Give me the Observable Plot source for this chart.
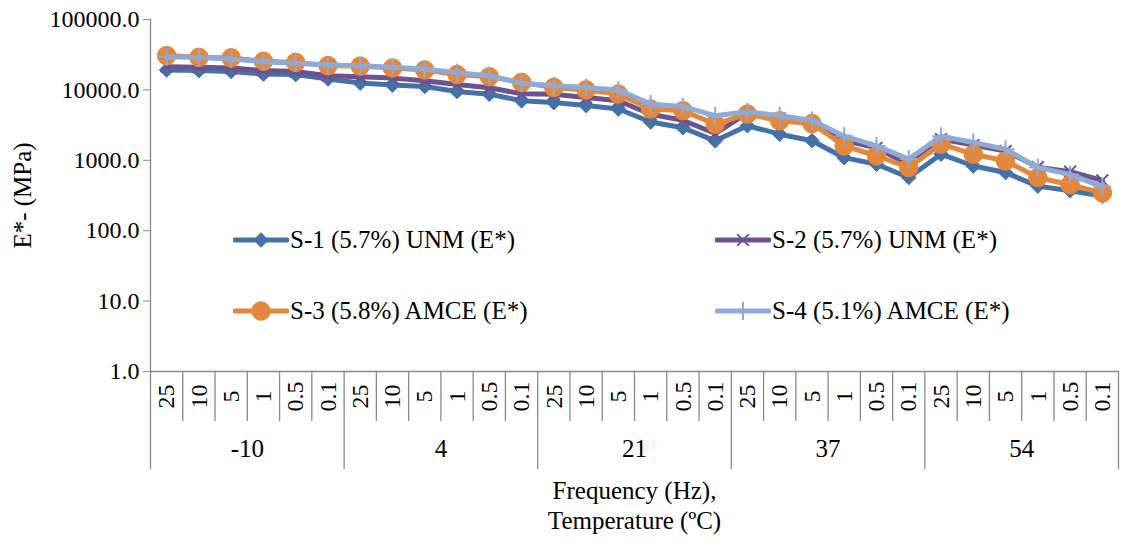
<!DOCTYPE html>
<html>
<head>
<meta charset="utf-8">
<script src="https://cdn.jsdelivr.net/npm/d3@7"></script>
<script src="https://cdn.jsdelivr.net/npm/@observablehq/plot@0.6"></script>
<style>
  body { margin: 0; background: #fff; }
  #wrap { position: relative; width: 1125px; height: 547px; font-family: "Liberation Serif", "Times New Roman", Times, Tinos, "DejaVu Serif", serif; }
  .leg { position: absolute; display: flex; align-items: center; font-size: 25px; color: #000; white-space: nowrap; }
  .leg svg { margin-right: 1px; }
</style>
</head>
<body>
<div id="wrap"></div>
<script>
// ---- data ----
const temps = ["-10", "4", "21", "37", "54"];
const freqs = ["25", "10", "5", "1", "0.5", "0.1"];
const seriesNames = ["S-1 (5.7%) UNM (E*)", "S-2 (5.7%) UNM (E*)", "S-3 (5.8%) AMCE (E*)", "S-4 (5.1%) AMCE (E*)"];
const s1 = [19200, 18800, 18300, 16800, 16500, 14300,
            12500, 11700, 11200, 9500, 8700, 7000,
            6600, 6000, 5350, 3500, 2900, 1890,
            3100, 2350, 1900, 1090, 880, 570,
            1220, 830, 670, 430, 370, 310];
const s2 = [21400, 21000, 20400, 18800, 18200, 15900,
            15400, 14700, 13500, 11900, 10700, 8800,
            8700, 7800, 7000, 4500, 3700, 2400,
            4700, 3900, 3300, 1900, 1500, 880,
            2000, 1650, 1350, 800, 690, 520];
const s3 = [30700, 29000, 28500, 25500, 24600, 22100,
            21800, 20500, 19200, 16500, 15400, 12800,
            10850, 10000, 8740, 5350, 5060, 3270,
            4540, 3640, 3330, 1600, 1160, 790,
            1700, 1220, 980, 570, 450, 345];
const s4 = [29500, 28800, 27500, 25200, 24000, 22500,
            22000, 20900, 19800, 17600, 15900, 12400,
            11500, 10850, 10000, 6300, 5800, 4300,
            4900, 4300, 3700, 2200, 1600, 1040,
            2200, 1790, 1440, 790, 630, 420];
const yTicks = [1, 10, 100, 1000, 10000, 100000];

// ---- styling ----
const FONT = '"Liberation Serif", "Times New Roman", Times, Tinos, "DejaVu Serif", serif';
const colors = ["#4472A8", "#6D5290", "#E3883B", "#8FAAD6"];
const symbols = ["diamond2", "times", "circle", "plus"];
const radii = [6.6, 5.4, 9.3, 5.8];
const filled = [true, false, true, false];

const seriesVals = [s1, s2, s3, s4];
const cats = [];
temps.forEach((t, ti) => freqs.forEach((f, fi) => cats.push({temp: t, freq: f, idx: ti * freqs.length + fi})));
const nCat = cats.length;

const marks = [];
marks.push(Plot.ruleY([1], {stroke: "#898989", strokeWidth: 1.3}));
marks.push(Plot.ruleX([0], {y1: 1, y2: 100000, stroke: "#898989", strokeWidth: 1.3}));
const edges = d3.range(nCat + 1);
marks.push(Plot.ruleX(edges.filter(e => e % freqs.length !== 0), {x: d => d, y1: 1, y2: 1, insetBottom: -50, stroke: "#898989", strokeWidth: 1.3}));
marks.push(Plot.ruleX(edges.filter(e => e % freqs.length === 0), {x: d => d, y1: 1, y2: 1, insetBottom: -98, stroke: "#898989", strokeWidth: 1.3}));
marks.push(Plot.text(cats, {x: d => d.idx + 0.5, y: 1, text: "freq", rotate: -90, dy: 25, fontSize: 24, fill: "#000", fontFamily: FONT}));
marks.push(Plot.text(temps, {x: (d, i) => i * freqs.length + freqs.length / 2, y: 1, text: d => d, dy: 77, fontSize: 25, fill: "#000", fontFamily: FONT}));
marks.push(Plot.axisY({ticks: yTicks, tickFormat: d3.format(".1f"), tickSize: 7, tickPadding: 4, stroke: "#898989", fill: "#000", fontSize: 24, fontFamily: FONT, label: null}));
seriesVals.forEach((vals, k) => {
  const rows = vals.map((v, i) => ({x: i + 0.5, v}));
  marks.push(Plot.line(rows, {x: "x", y: "v", stroke: colors[k], strokeWidth: 5, strokeLinejoin: "round", curve: "linear"}));
  marks.push(Plot.dot(rows, {x: "x", y: "v", symbol: symbols[k], r: radii[k],
    fill: filled[k] ? colors[k] : "none", stroke: colors[k], strokeWidth: filled[k] ? 1 : 2}));
});
marks.push(Plot.text(["E*- (MPa)"], {frameAnchor: "left", textAnchor: "middle", rotate: -90, dx: -128, fontSize: 25, fill: "#000", fontFamily: FONT}));
marks.push(Plot.text(["Frequency (Hz),"], {frameAnchor: "bottom", textAnchor: "middle", dy: 127, fontSize: 25, fill: "#000", fontFamily: FONT}));
marks.push(Plot.text(["Temperature (ºC)"], {frameAnchor: "bottom", textAnchor: "middle", dy: 157, fontSize: 25, fill: "#000", fontFamily: FONT}));

const chart = Plot.plot({
  width: 1125,
  height: 547,
  marginLeft: 150,
  marginRight: 7,
  marginTop: 19,
  marginBottom: 176,
  style: {fontFamily: FONT, background: "#fff", overflow: "visible"},
  x: {type: "linear", domain: [0, nCat], axis: null},
  y: {type: "log", domain: [1, 100000], axis: null},
  marks
});
const wrap = document.getElementById("wrap");
wrap.appendChild(chart);

const legPos = [[233, 240], [715, 240], [233, 311], [715, 311]];
function symbolPath(k) {
  const map = {diamond2: d3.symbolDiamond2, times: d3.symbolTimes, circle: d3.symbolCircle, plus: d3.symbolPlus};
  return d3.symbol(map[symbols[k]], Math.PI * radii[k] * radii[k])();
}
seriesNames.forEach((name, k) => {
  const div = document.createElement("div");
  div.className = "leg";
  div.style.left = legPos[k][0] + "px";
  div.style.top = (legPos[k][1] - 16) + "px";
  div.style.height = "32px";
  div.innerHTML = `<svg width="56" height="32"><line x1="2" x2="54" y1="16" y2="16" stroke="${colors[k]}" stroke-width="5" stroke-linecap="round"/>` +
    `<path transform="translate(28,16)" d="${symbolPath(k)}" fill="${filled[k] ? colors[k] : "none"}" stroke="${colors[k]}" stroke-width="${filled[k] ? 1 : 2}"/></svg>` +
    `<span>${name}</span>`;
  wrap.appendChild(div);
});
</script>
</body>
</html>
